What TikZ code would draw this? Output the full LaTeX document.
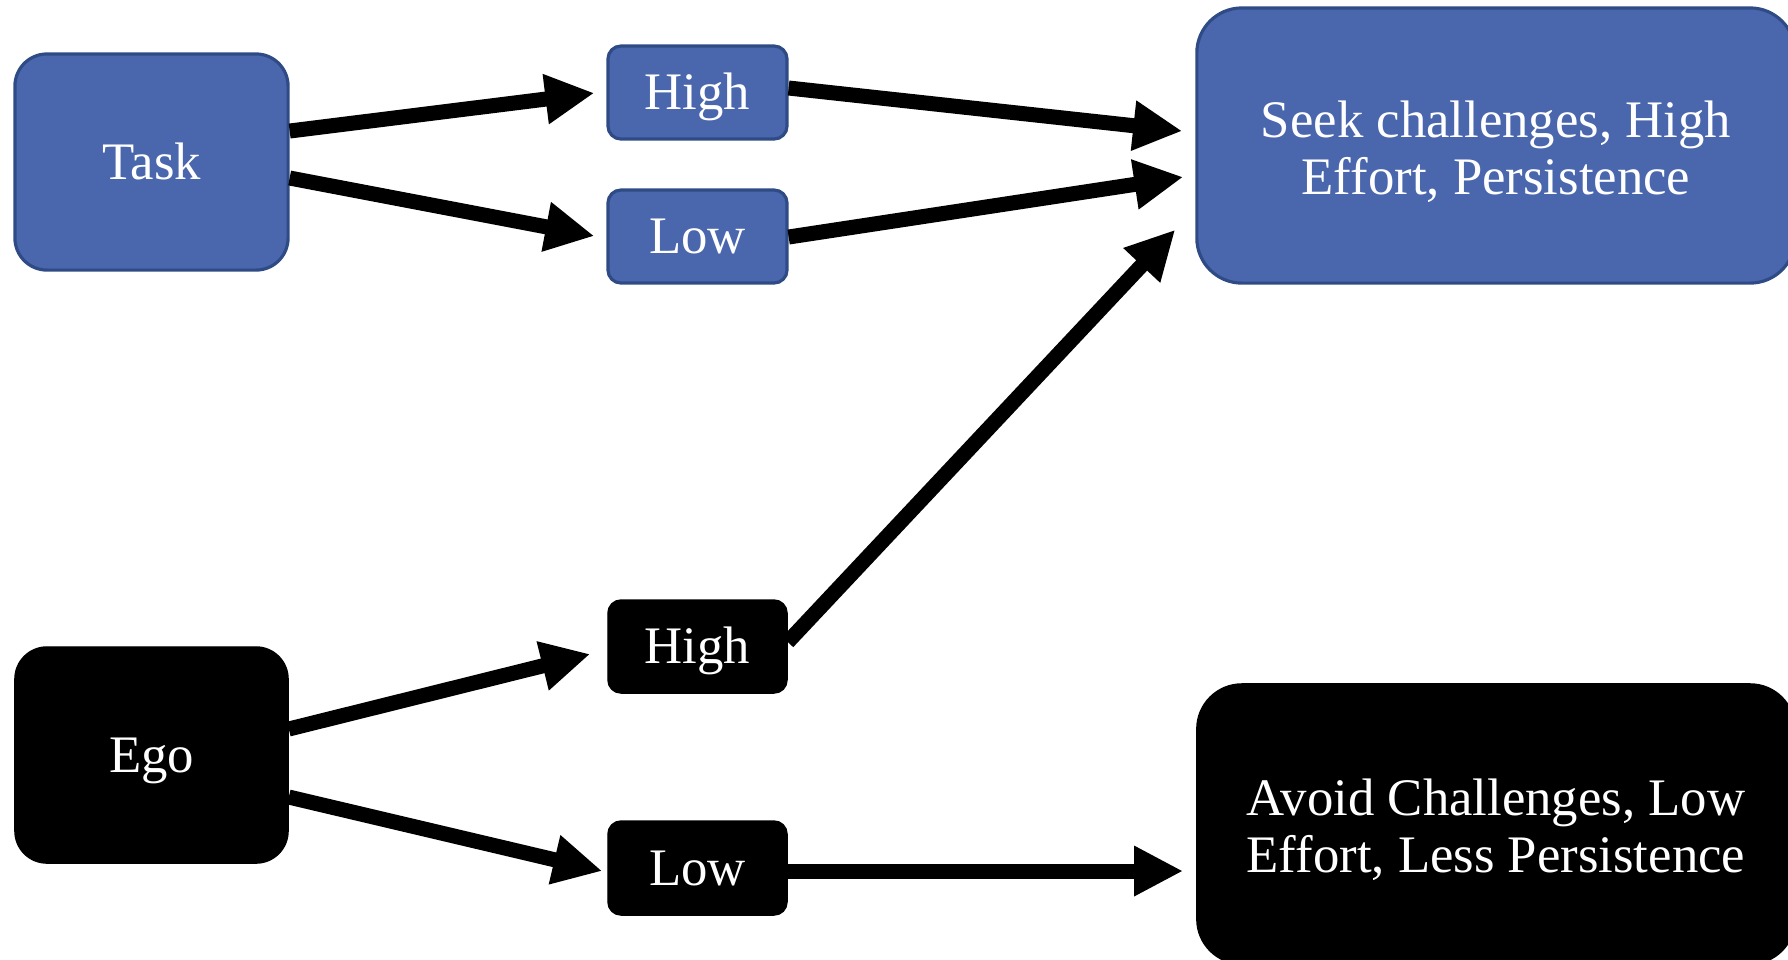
\documentclass[tikz,border=0pt]{standalone}
\usepackage{fontspec}
\setmainfont{Liberation Serif}
\usepackage{tikz}
\usetikzlibrary{arrows.meta, positioning, calc}
\usepackage[dvipsnames, svgnames, table]{xcolor}

\definecolor{goalblue}{HTML}{4A66AC}
\definecolor{goalline}{HTML}{2F4B85}

\tikzset{
    taskbox/.style={draw=goalline, line width=0.9pt, fill=goalblue, text=white, rounded corners=#1, align=center, inner sep=0pt, text height=9.9pt, text depth=0pt},
    egobox/.style={draw=black, fill=black, text=white, rounded corners=#1, align=center, inner sep=0pt, text height=9.9pt, text depth=0pt},
    twolines/.style={text height=27.6pt, text depth=0pt},
    flow/.style={line width=0.15cm, -{Triangle[length=4.9mm, width=4.7mm]}},
}

\begin{document}
\begin{tikzpicture}[x=0.01cm, y=-0.01cm, font=\fontsize{15}{16.2}\selectfont]
    \useasboundingbox (0,0) rectangle (1788,959);

    % Task orientation
    \node[taskbox=0.32cm, minimum width=2.73cm, minimum height=2.16cm] (task) at (151.5,162) {Task};
    \node[taskbox=0.13cm, minimum width=1.79cm, minimum height=0.93cm] (taskhigh) at (697.5,92.5) {High};
    \node[taskbox=0.13cm, minimum width=1.79cm, minimum height=0.93cm] (tasklow) at (697.5,236.5) {Low};
    \node[taskbox=0.45cm, twolines, minimum width=5.98cm, minimum height=2.75cm] (seek) at (1496,145.5) {Seek challenges, High\\Effort, Persistence};

    % Ego orientation
    \node[egobox=0.32cm, minimum width=2.73cm, minimum height=2.16cm] (ego) at (151.5,755) {Ego};
    \node[egobox=0.13cm, minimum width=1.79cm, minimum height=0.93cm] (egohigh) at (697.5,646.5) {High};
    \node[egobox=0.13cm, minimum width=1.79cm, minimum height=0.94cm] (egolow) at (697.5,868) {Low};
    \node[egobox=0.45cm, twolines, minimum width=5.98cm, minimum height=2.80cm] (avoid) at (1496,824) {Avoid Challenges, Low\\Effort, Less Persistence};

    % Arrows
    \draw[flow] ($(task.east)+(0,-31)$) -- ($(taskhigh.west)+(-12,0.5)$);
    \draw[flow] ($(task.east)+(0,16)$) -- ($(tasklow.west)+(-12,-0.5)$);
    \draw[flow] ($(taskhigh.east)+(0,-4.5)$) -- ($(seek.west)+(-13,-14.5)$);
    \draw[flow] ($(tasklow.east)+(0,0.5)$) -- ($(seek.west)+(-12,31.5)$);

    \draw[flow] ($(ego.east)+(0,-26)$) -- ($(egohigh.west)+(-17,7.5)$);
    \draw[flow] ($(ego.east)+(0,42)$) -- ($(egolow.west)+(-5,3)$);
    \draw[flow] ($(egohigh.east)+(0,-4.5)$) -- ($(seek.south west)+(-20,-55)$);
    \draw[flow] ($(egolow.east)+(0,3)$) -- ($(avoid.west)+(-13,47)$);
\end{tikzpicture}
\end{document}
